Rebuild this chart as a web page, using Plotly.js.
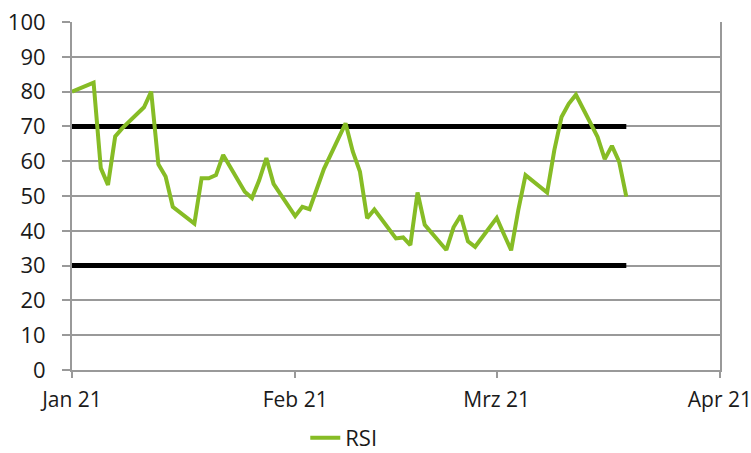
<!DOCTYPE html>
<html>
<head>
<meta charset="utf-8">
<script src="https://cdn.plot.ly/plotly-3.0.1.min.js"></script>
<style>html,body{margin:0;padding:0;background:#fff;}#chart{width:751px;height:453px;}</style>
</head>
<body>
<div id="chart"></div>
<script>
const dates = ['2021-01-01','2021-01-04','2021-01-05','2021-01-06','2021-01-07','2021-01-08',
  '2021-01-11','2021-01-12','2021-01-13','2021-01-14','2021-01-15',
  '2021-01-18','2021-01-19','2021-01-20','2021-01-21','2021-01-22',
  '2021-01-25','2021-01-26','2021-01-27','2021-01-28','2021-01-29',
  '2021-02-01','2021-02-02','2021-02-03','2021-02-04','2021-02-05',
  '2021-02-08','2021-02-09','2021-02-10','2021-02-11','2021-02-12',
  '2021-02-15','2021-02-16','2021-02-17','2021-02-18','2021-02-19',
  '2021-02-22','2021-02-23','2021-02-24','2021-02-25','2021-02-26',
  '2021-03-01','2021-03-02','2021-03-03','2021-03-04','2021-03-05',
  '2021-03-08','2021-03-09','2021-03-10','2021-03-11','2021-03-12',
  '2021-03-15','2021-03-16','2021-03-17','2021-03-18','2021-03-19'];
const rsi = [80.0,82.6,58.0,53.2,67.1,69.5,
  75.5,80.0,59.1,55.6,46.9,
  42.1,55.1,55.1,56.0,61.8,
  51.2,49.4,54.5,60.9,53.5,
  44.2,46.9,46.2,52.0,57.8,
  70.9,62.8,57.0,43.6,46.1,
  37.8,38.1,35.9,51.0,41.7,
  34.5,41.0,44.4,37.0,35.4,
  43.7,39.0,34.4,46.0,56.0,
  51.0,63.2,72.7,76.5,79.1,
  67.0,60.6,64.4,59.9,49.8];
const bandDates = ['2021-01-01','2021-03-19'];
const upperBand = [70,70];
const lowerBand = [30,30];
const tickDates = ['2021-01-01','2021-02-01','2021-03-01','2021-04-01'];
const tickLabels = ['Jan 21','Feb 21','Mrz 21','Apr 21'];
const yTicks = [0,10,20,30,40,50,60,70,80,90,100];

const green = '#86bc25';
const grid = '#999999';
const fontFam = '"Open Sans", "Noto Sans", sans-serif';

const traces = [
  {x: bandDates, y: upperBand, type: 'scatter', mode: 'lines', showlegend: false,
   line: {color: '#000000', width: 5}, hoverinfo: 'skip'},
  {x: bandDates, y: lowerBand, type: 'scatter', mode: 'lines', showlegend: false,
   line: {color: '#000000', width: 5}, hoverinfo: 'skip'},
  {x: dates, y: rsi, type: 'scatter', mode: 'lines', name: 'RSI',
   line: {color: green, width: 4, shape: 'linear'}}
];

const layout = {
  width: 751, height: 453,
  margin: {l: 72, r: 31, t: 22, b: 83, autoexpand: false},
  paper_bgcolor: '#ffffff', plot_bgcolor: '#ffffff',
  font: {family: fontFam, size: 22, color: '#1a1a1a'},
  showlegend: true,
  legend: {orientation: 'h', x: 0.36, xanchor: 'left', yref: 'container', y: 0.033, yanchor: 'middle',
           font: {family: fontFam, size: 22, color: '#1a1a1a'}, bgcolor: 'rgba(0,0,0,0)'},
  xaxis: {
    type: 'date', range: ['2021-01-01','2021-04-01 00:20'],
    tickmode: 'array', tickvals: tickDates, ticktext: tickLabels,
    showgrid: false, zeroline: false, automargin: false,
    showline: true, linecolor: grid, linewidth: 2,
    ticks: 'outside', ticklen: 6, tickcolor: grid, tickwidth: 2,
    ticklabelstandoff: 4, ticklabeloverflow: 'allow',
    tickfont: {family: fontFam, size: 21, color: '#1a1a1a'},
    fixedrange: true
  },
  yaxis: {
    range: [0, 100], tickmode: 'array', tickvals: yTicks,
    showgrid: true, gridcolor: grid, gridwidth: 2,
    zeroline: false, automargin: false,
    showline: true, linecolor: grid, linewidth: 2, mirror: true,
    ticks: 'outside', ticklen: 8, tickcolor: grid, tickwidth: 2,
    ticklabelstandoff: 12,
    tickfont: {family: fontFam, size: 22, color: '#1a1a1a'},
    fixedrange: true
  }
};

Plotly.newPlot('chart', traces, layout, {displayModeBar: false, staticPlot: true});
</script>
</body>
</html>
